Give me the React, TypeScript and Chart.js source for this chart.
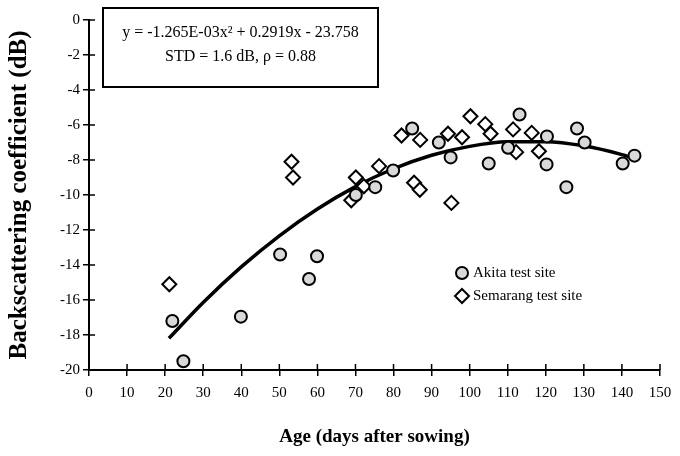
import React, { useEffect, useRef } from "react";
import { Chart, registerables } from "chart.js";

Chart.register(...registerables);

const akitaDays = [21.9, 24.8, 39.9, 50.2, 57.8, 59.9, 70.1, 75.2, 79.9, 84.9, 91.9, 95.0, 105.0, 110.1, 113.1, 120.3, 120.2, 125.4, 128.2, 130.2, 140.2, 143.3];
const akitaValues = [-17.2, -19.5, -16.95, -13.4, -14.8, -13.5, -10.0, -9.55, -8.6, -6.2, -7.0, -7.85, -8.2, -7.3, -5.4, -6.65, -8.25, -9.55, -6.2, -7.0, -8.2, -7.75];

const semarangDays = [21.1, 53.2, 53.6, 68.9, 70.1, 72.2, 76.2, 82.1, 85.4, 87.0, 86.9, 94.3, 95.2, 98.0, 100.2, 104.1, 105.5, 111.4, 112.2, 116.3, 118.2];
const semarangValues = [-15.1, -8.1, -9.0, -10.3, -9.0, -9.5, -8.35, -6.6, -9.3, -6.85, -9.7, -6.5, -10.45, -6.7, -5.5, -5.95, -6.5, -6.25, -7.55, -6.45, -7.5];

const fitDays = [21, 30, 40, 50, 60, 70, 80, 90, 100, 110, 120, 130, 140, 142];
const fitValues = [-18.19, -16.14, -14.11, -12.33, -10.8, -9.52, -8.5, -7.73, -7.22, -6.96, -6.95, -7.19, -7.69, -7.82];

const xTicks = [0, 10, 20, 30, 40, 50, 60, 70, 80, 90, 100, 110, 120, 130, 140, 150];
const yTicks = [-20, -18, -16, -14, -12, -10, -8, -6, -4, -2, 0];

const seriesLabels = ["Akita test site", "Semarang test site"];
const equationLines = ["y = -1.265E-03x\u00B2 + 0.2919x - 23.758", "STD = 1.6 dB, \u03C1 = 0.88"];
const xTitle = "Age (days after sowing)";
const yTitle = "Backscattering coefficient (dB)";

const FONT = "'Liberation Serif', 'Times New Roman', serif";

const decorPlugin = {
  id: "decor",
  afterDraw(chart: any) {
    const ctx = chart.ctx;
    const area = chart.chartArea;
    const xs = chart.scales.x;
    const ys = chart.scales.y;
    ctx.save();
    ctx.strokeStyle = "#000";
    ctx.lineWidth = 1.5;
    xs.ticks.forEach((t: any) => {
      const px = xs.getPixelForValue(t.value);
      ctx.beginPath();
      ctx.moveTo(px, area.bottom);
      ctx.lineTo(px, area.bottom - 6);
      ctx.stroke();
    });
    ys.ticks.forEach((t: any) => {
      const py = ys.getPixelForValue(t.value);
      ctx.beginPath();
      ctx.moveTo(area.left, py);
      ctx.lineTo(area.left + 6, py);
      ctx.stroke();
    });

    const bx = 103, by = 8, bw = 275, bh = 79;
    ctx.lineWidth = 2;
    ctx.fillStyle = "#fff";
    ctx.fillRect(bx, by, bw, bh);
    ctx.strokeRect(bx, by, bw, bh);
    ctx.fillStyle = "#000";
    ctx.font = `16px ${FONT}`;
    ctx.textAlign = "center";
    ctx.textBaseline = "middle";
    ctx.fillText(equationLines[0], bx + bw / 2, 33);
    ctx.fillText(equationLines[1], bx + bw / 2, 57);

    const lx = 462;
    const rows = [273, 296];
    ctx.beginPath();
    ctx.arc(lx, rows[0], 6, 0, Math.PI * 2);
    ctx.fillStyle = "#d9d9d9";
    ctx.fill();
    ctx.lineWidth = 2;
    ctx.strokeStyle = "#000";
    ctx.stroke();
    ctx.beginPath();
    ctx.moveTo(lx, rows[1] - 7);
    ctx.lineTo(lx + 7, rows[1]);
    ctx.lineTo(lx, rows[1] + 7);
    ctx.lineTo(lx - 7, rows[1]);
    ctx.closePath();
    ctx.fillStyle = "#fff";
    ctx.fill();
    ctx.stroke();
    ctx.fillStyle = "#000";
    ctx.font = `15px ${FONT}`;
    ctx.textAlign = "left";
    ctx.fillText(seriesLabels[0], lx + 11, rows[0]);
    ctx.fillText(seriesLabels[1], lx + 11, rows[1]);
    ctx.restore();
  },
};

export default function App() {
  const ref = useRef<HTMLCanvasElement | null>(null);

  useEffect(() => {
    if (!ref.current) return;
    const chart = new Chart(ref.current, {
      type: "scatter",
      data: {
        datasets: [
          {
            type: "line",
            label: "fit",
            data: fitDays.map((d, i) => ({ x: d, y: fitValues[i] })),
            borderColor: "#000",
            borderWidth: 3.5,
            pointRadius: 0,
            fill: false,
            cubicInterpolationMode: "monotone",
            order: 3,
          } as any,
          {
            label: seriesLabels[0],
            data: akitaDays.map((d, i) => ({ x: d, y: akitaValues[i] })),
            pointStyle: "circle",
            pointRadius: 6,
            pointBorderWidth: 2,
            pointBackgroundColor: "#d9d9d9",
            pointBorderColor: "#000",
            order: 1,
          },
          {
            label: seriesLabels[1],
            data: semarangDays.map((d, i) => ({ x: d, y: semarangValues[i] })),
            pointStyle: "rectRot",
            pointRadius: 7,
            pointBorderWidth: 2,
            pointBackgroundColor: "#fff",
            pointBorderColor: "#000",
            order: 2,
          },
        ],
      },
      options: {
        animation: false,
        responsive: false,
        devicePixelRatio: 1,
        layout: { padding: { top: 20, right: 20, left: 0, bottom: 0 } },
        plugins: { legend: { display: false }, tooltip: { enabled: false } },
        scales: {
          x: {
            type: "linear",
            min: xTicks[0],
            max: xTicks[xTicks.length - 1],
            afterBuildTicks: (s: any) => {
              s.ticks = xTicks.map((v) => ({ value: v }));
            },
            afterFit: (s: any) => {
              s.height = 86;
            },
            ticks: { color: "#000", font: { family: FONT, size: 15 }, padding: 8, maxRotation: 0, autoSkip: false },
            grid: { drawOnChartArea: false, drawTicks: true, tickLength: 6, color: "#000", lineWidth: 1.5 },
            border: { display: true, color: "#000", width: 2 },
            title: { display: true, text: xTitle, color: "#000", font: { family: FONT, size: 19, weight: "bold" }, padding: { top: 0, bottom: 8 } },
          },
          y: {
            type: "linear",
            min: yTicks[0],
            max: yTicks[yTicks.length - 1],
            afterBuildTicks: (s: any) => {
              s.ticks = yTicks.map((v) => ({ value: v }));
            },
            afterFit: (s: any) => {
              s.width = 89;
            },
            ticks: { color: "#000", font: { family: FONT, size: 15 }, padding: 3, autoSkip: false },
            grid: { drawOnChartArea: false, drawTicks: true, tickLength: 6, color: "#000", lineWidth: 1.5 },
            border: { display: true, color: "#000", width: 2 },
            title: { display: true, text: yTitle, color: "#000", font: { family: FONT, size: 25, weight: "bold" }, padding: { top: 5, bottom: 0 } },
          },
        },
      },
      plugins: [decorPlugin],
    } as any);
    return () => chart.destroy();
  }, []);

  return (
    <div style={{ position: "fixed", left: 0, top: 0, width: 680, height: 456, background: "#fff" }}>
      <canvas ref={ref} width={680} height={456} />
    </div>
  );
}
